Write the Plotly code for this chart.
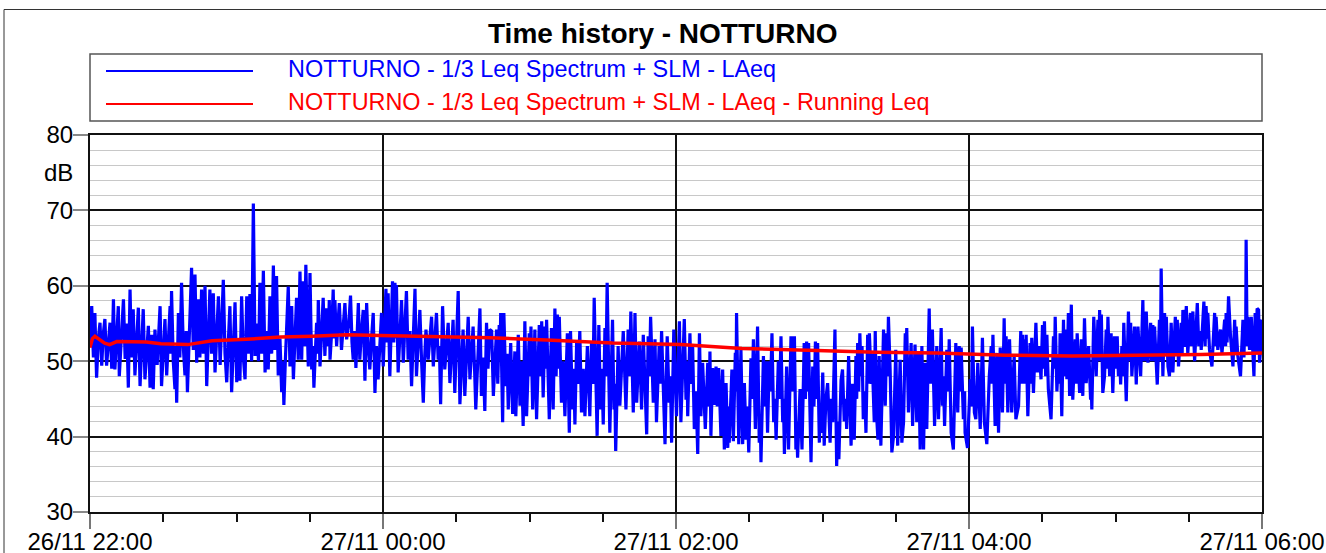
import pandas as pd
import plotly.graph_objects as go

# ---------------- data ----------------
START = "2024-11-26 22:00:00"
END = "2024-11-27 06:00:00"

title_text = "Time history - NOTTURNO"
name_laeq = "NOTTURNO - 1/3 Leq Spectrum + SLM - LAeq"
name_run = "NOTTURNO - 1/3 Leq Spectrum + SLM - LAeq - Running Leq"

# LAeq samples: (minutes after 22:00, dB)
laeq_2200 = [(0.0,52.0),(0.7,57.3),(1.4,50.5),(2.0,56.4),(2.7,47.8),(3.4,53.0),(4.1,55.1),(4.8,49.4),(5.4,53.5),(6.1,55.6),(6.8,49.4),(7.5,53.0),(8.2,55.1),(8.9,49.0),(9.6,58.2),(10.2,48.9),(10.9,53.5),(11.6,57.3),(12.0,48.0),(12.8,52.5),(13.7,58.2),(14.4,50.3),(15.0,55.0),(15.7,46.5),(16.4,59.5),(17.0,50.5),(17.7,56.9),(18.4,48.1),(19.1,53.0),(19.8,57.1),(20.5,46.7),(21.1,52.0),(21.8,56.9),(22.5,47.6),(23.2,51.5),(23.9,54.7),(24.6,46.5),(25.3,53.5),(25.9,46.3),(26.6,54.2),(27.5,49.5),(28.1,53.0),(28.7,57.3),(29.3,46.7),(30.0,52.0),(30.7,55.6),(31.4,48.1),(32.1,52.5),(32.8,57.3),(33.1,51.0),(33.4,59.3),(34.1,50.0),(34.8,46.3),(35.1,52.0),(35.5,44.5),(36.2,56.4),(36.8,50.5),(37.5,60.4),(38.2,52.0),(38.9,48.1),(39.4,54.0),(39.9,45.9),(40.8,55.0),(41.6,62.4),(42.3,51.5),(43.0,61.5),(43.7,49.8),(44.4,58.2),(45.0,50.5),(45.7,59.5),(46.4,51.0),(47.1,60.0),(47.8,46.7),(48.4,53.5),(49.1,59.5),(49.8,51.0),(50.5,59.0),(51.2,48.5),(51.9,54.0),(52.6,58.6),(53.3,49.5),(53.9,55.0),(54.6,60.8),(55.3,51.0),(56.0,47.2),(56.7,53.0),(57.3,57.3),(58.0,45.9),(58.7,52.0),(59.4,57.8),(60.1,47.2),(60.7,53.0),(61.4,47.4),(62.1,58.6),(62.8,50.5),(63.5,47.6),(64.2,58.6),(64.9,51.0),(65.5,58.9),(66.2,50.0),(66.9,70.9),(67.6,50.7),(68.3,55.0),(69.0,50.0),(69.6,60.4),(70.3,51.0),(71.0,62.0),(71.7,48.5),(72.4,54.0),(73.0,48.9),(73.7,58.6),(74.4,51.0),(75.1,62.7),(75.7,51.5),(76.4,61.3),(77.1,48.1),(77.8,53.0),(78.5,45.9),(79.0,50.0),(79.4,44.2),(80.0,50.0),(80.5,55.1),(81.2,59.9),(81.9,49.3)]

laeq_2320 = [(82.6,57.3),(83.3,47.6),(84.0,53.0),(84.6,58.4),(85.3,50.2),(86.0,61.9),(86.7,50.2),(87.3,60.6),(87.9,52.0),(88.4,62.8),(89.4,49.3),(90.1,61.7),(90.8,48.9),(91.3,52.0),(91.7,46.5),(92.8,55.1),(93.2,51.0),(93.5,58.1),(94.2,49.3),(94.9,54.0),(95.5,58.4),(96.2,50.7),(96.9,57.0),(97.5,52.0),(98.0,58.1),(98.3,50.2),(99.0,54.0),(99.6,59.5),(100.0,53.0),(100.3,58.1),(101.0,52.0),(102.1,57.7),(103.0,51.5),(104.4,57.7),(105.1,52.9),(106.0,55.0),(106.7,58.7),(107.3,52.5),(107.8,50.2),(108.4,54.0),(108.9,49.1),(109.9,57.7),(110.5,50.2),(111.2,54.0),(111.9,56.8),(112.6,47.4),(113.3,57.7),(114.0,51.5),(114.6,48.9),(115.3,53.0),(116.0,56.4),(116.7,45.8),(117.3,52.0),(118.0,47.6),(118.7,53.0),(119.4,56.4),(120.1,49.3),(120.7,54.0),(121.2,59.6),(121.7,52.5),(122.1,59.0),(122.8,48.0),(123.4,54.0),(123.9,60.6),(124.4,52.5),(124.9,60.4),(125.2,53.0),(125.5,60.1),(126.2,48.5),(126.9,53.5),(127.6,58.1),(128.3,49.8),(129.0,54.0),(129.6,59.3),(130.3,50.2),(131.0,54.0),(131.7,46.7),(132.4,53.0),(133.1,59.6),(133.7,48.0),(134.4,53.0),(135.1,56.8),(135.8,50.0),(136.5,44.5),(137.0,50.0),(137.6,54.2),(138.5,50.2),(139.2,53.0),(139.9,55.9),(140.6,49.3),(141.3,53.0),(141.9,56.4),(142.6,50.2),(143.1,52.0),(143.6,44.3),(144.4,57.3),(145.3,48.9),(146.0,52.5),(146.7,55.1),(147.4,47.1),(148.0,52.0),(148.7,55.5),(149.4,45.8),(150.1,52.0),(150.8,59.3),(151.5,44.3),(152.2,50.0),(152.8,54.2),(153.5,45.4),(154.2,51.0),(154.9,55.9),(155.6,47.6),(156.3,51.5),(156.9,54.6),(157.5,49.0),(158.0,43.6),(158.8,50.0),(159.7,57.0),(160.3,45.4),(161.0,50.5),(161.7,43.4),(162.4,55.1),(163.0,49.0),(163.7,54.2)]

laeq_0040 = [(164.5,54.0),(165.2,45.4),(166.5,54.2),(167.0,47.0),(167.6,54.8),(167.9,50.0),(168.2,56.4),(169.0,41.9),(169.5,56.4),(170.3,46.7),(170.8,51.0),(171.3,43.6),(172.3,52.4),(173.1,43.0),(174.0,51.3),(174.4,42.7),(175.4,53.5),(176.1,44.1),(176.7,50.0),(177.4,41.4),(178.1,55.3),(178.8,42.7),(179.9,53.7),(180.2,48.0),(180.6,54.6),(181.3,43.6),(182.2,54.2),(182.9,42.3),(184.0,54.8),(184.5,48.0),(185.0,55.3),(185.6,45.2),(186.3,54.6),(186.6,49.0),(187.0,55.5),(188.1,42.3),(189.0,54.4),(189.7,43.6),(190.4,57.0),(190.9,48.0),(191.4,56.2),(191.8,49.0),(192.2,55.9),(193.1,44.5),(193.8,50.0),(194.5,42.7),(195.5,53.7),(196.3,40.5),(196.8,54.0),(197.6,43.6),(198.1,49.0),(198.6,41.6),(199.3,52.4),(199.9,47.0),(200.6,54.0),(201.3,43.2),(202.0,49.0),(202.7,42.7),(203.7,52.0),(204.7,42.7),(205.4,52.6),(206.0,47.0),(206.5,58.4),(207.0,50.0),(207.7,40.1),(208.4,54.8),(209.1,43.6),(209.6,49.0),(210.2,41.6),(210.9,54.4),(211.3,48.0),(211.8,60.4),(212.3,49.0),(212.9,40.5),(214.0,55.5),(214.6,43.6),(214.9,47.0),(215.3,38.1),(216.3,52.0),(217.0,44.1),(218.4,54.0),(219.5,43.6),(220.4,54.2),(221.0,48.0),(221.5,56.6),(222.5,43.2),(223.2,56.4),(223.9,44.5),(225.0,52.6),(225.9,43.6),(226.6,53.5),(227.3,46.0),(228.0,40.3),(228.6,53.3),(229.1,48.0),(229.6,55.9),(230.7,44.5),(231.4,52.9),(232.0,41.9),(233.1,52.0),(233.6,47.0),(234.1,54.0),(234.8,46.0),(235.5,39.0),(236.4,53.3),(237.2,44.5),(237.7,48.0),(238.2,39.2),(239.1,54.2),(240.2,42.7)]

laeq_0200 = [(241.4,55.3),(242.0,41.9),(243.4,55.6),(244.1,44.9),(244.5,50.0),(244.8,42.7),(245.7,53.7),(246.2,47.0),(246.8,52.2),(247.5,41.0),(248.2,46.0),(248.9,37.7),(249.6,53.7),(250.2,42.7),(250.9,49.8),(252.0,41.0),(253.0,49.8),(253.6,44.0),(253.9,51.3),(254.3,40.1),(255.0,49.1),(255.7,44.2),(256.4,49.3),(256.9,44.0),(257.5,49.1),(258.4,40.1),(259.1,48.9),(259.8,38.3),(260.5,47.1),(261.2,38.5),(261.5,44.0),(261.8,39.2),(262.9,48.9),(263.5,39.4),(264.3,51.1),(264.6,46.0),(264.8,56.4),(265.7,39.0),(266.6,51.5),(267.3,39.0),(268.0,47.1),(268.7,39.6),(269.2,44.0),(269.8,37.9),(270.7,50.4),(271.2,45.0),(271.7,52.9),(272.5,41.0),(273.4,54.6),(274.1,39.2),(274.5,43.0),(274.8,36.6),(275.8,50.7),(276.3,44.0),(276.9,50.0),(277.5,40.5),(278.2,50.0),(278.7,46.0),(279.3,53.7),(280.0,41.9),(280.5,45.0),(281.0,39.6),(281.9,50.0),(282.4,45.0),(283.0,53.3),(283.7,41.9),(284.0,45.0),(284.4,37.7),(285.3,49.3),(286.1,38.3),(287.1,53.3),(287.5,46.0),(287.8,53.3),(288.2,46.0),(288.5,53.3),(289.1,38.3),(289.4,42.0),(289.8,37.2),(290.8,46.3),(291.6,38.3),(292.5,52.4),(293.0,45.0),(293.5,52.6),(293.9,46.0),(294.3,52.4),(295.3,36.6),(296.0,49.3),(296.5,44.0),(297.1,52.6),(297.6,45.0),(298.0,52.4),(298.7,39.2),(299.0,44.0),(299.4,40.5),(300.1,48.5),(300.7,38.8),(301.4,45.0),(302.1,47.1),(303.1,39.2),(303.6,45.0),(304.2,41.9),(305.1,54.2),(305.8,36.1),(306.3,42.0),(306.7,37.0),(307.6,47.5),(308.2,48.9),(308.9,42.0),(309.5,45.0),(309.9,41.0),(310.7,50.7),(311.7,38.8),(312.3,47.0),(313.0,39.6),(313.7,50.7),(314.0,45.0),(314.4,52.4),(314.8,46.0),(315.3,53.7),(315.8,48.0),(316.2,52.0),(316.7,42.3),(317.3,46.0),(317.8,40.5),(318.5,53.5),(318.9,47.0),(319.2,53.7),(320.0,47.0),(320.3,51.0),(321.2,41.9)]

laeq_0320 = [(321.6,54.0),(322.1,43.2),(322.7,39.6),(323.2,50.7),(323.9,38.8),(325.0,54.2),(325.7,44.1),(326.3,53.7),(326.6,48.0),(327.0,55.9),(327.7,48.9),(328.4,37.9),(329.1,40.1),(330.0,51.5),(330.8,38.8),(331.8,50.2),(332.5,39.2),(333.2,41.9),(333.9,53.7),(334.2,48.0),(334.5,54.4),(335.2,43.2),(336.3,52.4),(336.9,41.4),(337.9,52.2),(338.6,41.9),(339.3,51.1),(340.0,38.3),(340.7,52.0),(341.4,38.3),(342.0,49.8),(342.7,41.0),(343.7,57.0),(344.2,47.0),(344.5,53.1),(344.8,48.0),(345.0,54.2),(345.9,41.4),(346.8,52.0),(347.5,42.3),(348.6,54.4),(349.1,44.1),(349.5,48.0),(350.0,41.4),(350.9,51.5),(351.5,46.0),(351.9,52.9),(352.7,40.5),(353.6,38.3),(354.6,52.4),(355.4,43.2),(356.0,52.0),(356.4,46.0),(356.8,51.8),(357.7,42.3),(358.2,46.0),(358.4,40.5),(359.4,38.5),(360.5,47.6),(361.0,44.0),(361.4,54.6),(362.2,43.2),(362.8,42.3),(363.6,49.8),(364.6,41.0),(365.5,53.1),(366.3,41.9),(367.3,39.0),(368.3,48.0),(369.1,52.0),(369.4,47.0),(369.8,53.5),(370.7,41.4),(371.4,51.1),(372.1,40.5),(372.8,51.8),(373.7,43.2),(374.4,55.7),(374.8,47.0),(375.2,53.3),(375.9,43.2),(376.6,52.9),(377.5,43.2),(378.5,50.7),(379.2,42.3),(380.3,44.1),(381.2,54.0),(381.6,47.0),(381.9,53.5),(382.3,47.0),(382.7,52.9),(383.1,47.0),(383.4,53.5),(384.1,42.7),(385.0,52.4),(385.4,47.0),(385.7,53.1),(386.4,45.8),(387.4,55.1),(388.0,48.5),(388.7,52.0),(389.5,47.6),(390.1,54.8),(390.5,49.0),(390.9,55.3),(391.4,48.0),(391.9,53.5),(392.5,46.3),(393.6,42.3),(394.6,53.3),(395.0,49.0),(395.3,55.9),(396.0,46.0),(396.7,50.7),(397.0,47.0),(397.3,53.7),(398.0,42.7),(398.7,55.5),(399.1,48.0),(399.4,54.2),(400.1,47.6),(400.7,56.4)]

laeq_0440 = [(401.2,45.4),(401.9,57.5),(402.5,44.9),(403.5,52.9),(403.9,47.0),(404.3,53.7),(405.3,45.8),(406.0,52.9),(406.6,45.4),(407.3,55.7),(408.0,47.1),(409.0,52.0),(409.8,44.9),(410.0,48.0),(410.3,43.6),(411.1,55.9),(412.1,48.0),(412.8,55.5),(413.1,50.0),(413.5,56.8),(413.8,50.0),(414.2,56.2),(414.8,45.8),(415.5,48.0),(416.2,54.2),(416.5,49.0),(416.9,55.9),(417.6,48.0),(418.2,53.7),(418.9,45.8),(419.6,53.3),(420.2,49.0),(420.7,53.3),(421.2,48.0),(421.7,51.0),(422.1,46.9),(422.6,52.0),(423.0,48.0),(423.4,55.1),(424.4,44.7),(425.3,56.6),(425.8,50.0),(426.2,55.1),(426.7,48.0),(427.8,54.6),(428.5,46.9),(429.2,54.6),(430.3,48.0),(431.2,58.1),(431.6,50.0),(431.9,55.5),(432.3,50.0),(432.6,56.6),(433.3,49.8),(434.4,55.1),(434.8,50.0),(435.3,54.8),(435.7,50.0),(436.0,54.6),(436.7,48.9),(437.1,46.9),(438.0,55.5),(438.4,50.0),(438.7,62.3),(439.4,48.0),(440.1,56.4),(440.5,51.0),(440.8,55.9),(441.5,49.3),(442.1,48.0),(442.8,55.1),(443.5,48.5),(444.5,55.9),(444.9,51.0),(445.3,55.5),(445.8,49.3),(446.9,55.1),(447.3,51.0),(447.6,56.8),(448.3,51.9),(449.0,57.3),(449.6,51.0),(450.7,56.4),(451.1,52.0),(451.7,56.6),(452.4,50.0),(453.5,57.7),(454.1,52.0),(454.7,54.0),(455.1,51.5),(456.2,57.9),(456.7,52.0),(457.1,57.3),(457.6,53.0),(457.8,56.4),(458.5,51.5),(459.5,49.3),(460.6,56.4),(461.0,52.0),(461.2,55.9),(461.9,51.5),(463.0,54.2),(463.6,51.0),(464.7,55.5),(465.1,52.0),(465.3,56.4),(465.7,52.5),(466.3,58.6),(467.1,53.3),(468.1,49.3),(468.8,55.5),(469.2,51.0),(469.4,54.6),(470.1,50.7),(471.2,48.0),(472.2,55.5),(472.6,50.5),(472.9,54.6),(473.3,52.0),(473.5,66.1),(473.9,52.0),(474.2,55.9),(474.9,51.5),(475.6,55.9),(476.3,48.9),(476.7,48.0),(477.2,56.4),(477.6,51.0),(478.0,57.0),(478.6,56.8),(479.0,49.8),(479.4,51.5),(479.7,55.1),(480.0,55.5)]

# Running Leq: (minutes after 22:00, dB)
running_t = [0, 1, 2, 4, 6, 8, 11, 23, 29, 40, 50, 64, 78, 91, 105, 119, 139, 164, 187, 214, 242, 267, 294, 322, 347, 375, 402, 428, 455, 480]
running_db = [51.8, 53.0, 53.3, 52.8, 52.4, 52.2, 52.6, 52.55, 52.3, 52.2, 52.7, 52.9, 53.2, 53.3, 53.5, 53.4, 53.3, 53.1, 52.8, 52.4, 52.2, 51.7, 51.45, 51.2, 51.1, 50.8, 50.7, 50.75, 50.9, 51.1]

y_range = [30, 80]
y_major = 10
y_minor = 2

# ---------------- figure ----------------
FONT = "Liberation Sans, Arial, sans-serif"
t0 = pd.Timestamp(START)

laeq_all = laeq_2200 + laeq_2320 + laeq_0040 + laeq_0200 + laeq_0320 + laeq_0440
laeq_x = [t0 + pd.Timedelta(minutes=m) for m, _ in laeq_all]
laeq_y = [v for _, v in laeq_all]
run_x = [t0 + pd.Timedelta(minutes=m) for m in running_t]

fig = go.Figure()
fig.add_trace(go.Scatter(x=laeq_x, y=laeq_y, mode="lines", name=name_laeq,
                         line=dict(color="#0000FF", width=3.2), showlegend=False))
fig.add_trace(go.Scatter(x=run_x, y=running_db, mode="lines", name=name_run,
                         line=dict(color="#FF0000", width=3.5), showlegend=False))

L, R, T, B = 90, 64, 135, 41
W, H = 1326, 553
PW, PH = W - L - R, H - T - B

def px(p):
    return (p - L) / PW

def py(q):
    return (H - B - q) / PH

shapes = [
    # outer frame (left and top)
    dict(type="line", xref="paper", yref="paper", x0=px(4), x1=px(4), y0=py(9.5), y1=py(560),
         line=dict(color="#333333", width=1)),
    dict(type="line", xref="paper", yref="paper", x0=px(4), x1=px(1330), y0=py(9.5), y1=py(9.5),
         line=dict(color="#333333", width=1)),
    # legend box
    dict(type="rect", xref="paper", yref="paper", x0=px(90), x1=px(1262), y0=py(121), y1=py(54),
         line=dict(color="#555555", width=1.5), fillcolor="white"),
    dict(type="line", xref="paper", yref="paper", x0=px(106), x1=px(253), y0=py(71), y1=py(71),
         line=dict(color="#0000FF", width=2)),
    dict(type="line", xref="paper", yref="paper", x0=px(106), x1=px(253), y0=py(104), y1=py(104),
         line=dict(color="#FF0000", width=2)),
]

annotations = [
    dict(text="<b>" + title_text + "</b>", xref="paper", yref="paper", x=px(663), y=py(33),
         xanchor="center", yanchor="middle", showarrow=False,
         font=dict(family=FONT, size=28, color="black")),
    dict(text=name_laeq, xref="paper", yref="paper", x=px(286), y=py(69),
         xanchor="left", yanchor="middle", showarrow=False,
         font=dict(family=FONT, size=23.4, color="#0000FF")),
    dict(text=name_run, xref="paper", yref="paper", x=px(286), y=py(102),
         xanchor="left", yanchor="middle", showarrow=False,
         font=dict(family=FONT, size=23.4, color="#FF0000")),
    dict(text="dB", xref="paper", yref="y", x=px(75), y=75,
         xanchor="right", yanchor="middle", showarrow=False,
         font=dict(family=FONT, size=24, color="black")),
]

fig.update_layout(
    width=W, height=H,
    margin=dict(l=L, r=R, t=T, b=B, pad=0, autoexpand=False),
    paper_bgcolor="white", plot_bgcolor="white",
    font=dict(family=FONT, size=24, color="black"),
    shapes=shapes, annotations=annotations,
    showlegend=False,
    xaxis=dict(
        type="date", range=[START, END], tick0=START, dtick=2 * 3600 * 1000,
        tickformat="%d/%m %H:%M", ticks="outside", ticklen=15, tickwidth=1.5, tickcolor="#777777",
        ticklabelstandoff=-8,
        showgrid=True, gridcolor="#111111", gridwidth=1.5, automargin=False,
        showline=True, linecolor="#111111", linewidth=2, mirror=True, zeroline=False,
        tickfont=dict(family=FONT, size=24, color="black"),
        minor=dict(dtick=30 * 60 * 1000, ticks="outside", ticklen=8, tickwidth=1.5,
                   tickcolor="#111111", showgrid=False),
    ),
    yaxis=dict(
        range=y_range, dtick=y_major, tick0=0, ticks="outside", ticklen=15, tickwidth=1.5,
        tickcolor="#888888", automargin=False, ticklabelstandoff=-5,
        showgrid=True, gridcolor="#111111", gridwidth=1.5,
        showline=True, linecolor="#111111", linewidth=2, mirror=True, zeroline=False,
        tickfont=dict(family=FONT, size=24, color="black"),
        minor=dict(dtick=y_minor, showgrid=True, gridcolor="#c8c8c8", gridwidth=1, ticks=""),
    ),
)

fig.write_html(
    "out.html",
    config={"displayModeBar": False},
    post_script="document.body.style.margin='0';document.body.style.overflow='hidden';",
)
